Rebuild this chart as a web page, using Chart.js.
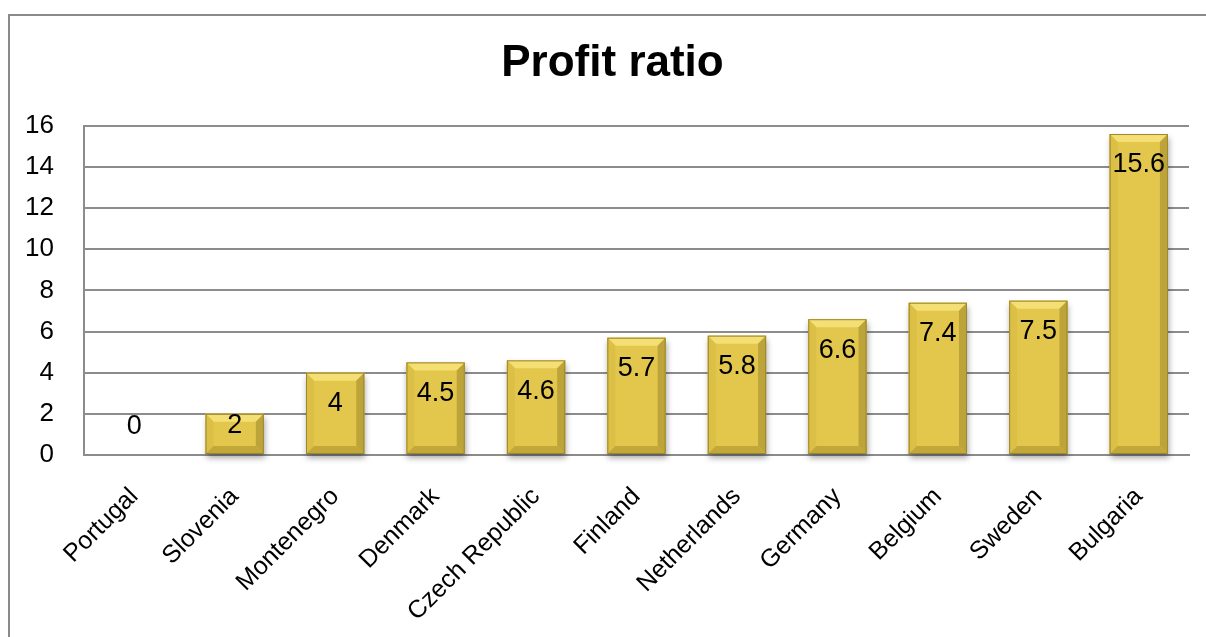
<!DOCTYPE html>
<html>
<head>
<meta charset="utf-8">
<title>Profit ratio</title>
<script src="https://cdn.jsdelivr.net/npm/chart.js@4.4.0/dist/chart.umd.min.js"></script>
<style>
  html, body { margin: 0; padding: 0; background: #fff; }
  #wrap { position: relative; width: 1206px; height: 637px; }
</style>
</head>
<body>
<div id="wrap"><canvas id="profitChart"></canvas></div>
<script>
const countries = ["Portugal", "Slovenia", "Montenegro", "Denmark", "Czech Republic",
  "Finland", "Netherlands", "Germany", "Belgium", "Sweden", "Bulgaria"];
const profitRatio = [0, 2, 4, 4.5, 4.6, 5.7, 5.8, 6.6, 7.4, 7.5, 15.6];
const yTicks = [0, 2, 4, 6, 8, 10, 12, 14, 16];

const FONT = '"Liberation Sans", Arial, sans-serif';
const GRID = "#8c8c8c";

// outer frame of the chart object; title box narrowed so it centres over the frame
const framePlugin = {
  id: "frame",
  afterLayout(chart) {
    if (chart.titleBlock) chart.titleBlock.left = 36;
  },
  beforeDraw(chart) {
    const ctx = chart.ctx;
    ctx.save();
    ctx.fillStyle = "#fff";
    ctx.fillRect(0, 0, chart.width, chart.height);
    ctx.strokeStyle = "#8a8a8a";
    ctx.lineWidth = 2;
    ctx.beginPath();
    ctx.moveTo(9, chart.height + 2);
    ctx.lineTo(9, 15);
    ctx.lineTo(chart.width + 2, 15);
    ctx.stroke();
    ctx.restore();
  }
};

// soft drop shadow under each bar, bevelled faces on top, value labels
const bevelPlugin = {
  id: "bevel",
  beforeDatasetsDraw(chart) {
    const ctx = chart.ctx;
    const meta = chart.getDatasetMeta(0);
    ctx.save();
    ctx.shadowColor = "rgba(0,0,0,0.35)";
    ctx.shadowBlur = 6;
    ctx.shadowOffsetY = 4;
    ctx.shadowOffsetX = 1;
    ctx.fillStyle = "#c9ad3c";
    meta.data.forEach((bar) => {
      const h = bar.base - bar.y;
      if (h <= 0) return;
      ctx.fillRect(bar.x - bar.width / 2, bar.y, bar.width, h);
    });
    ctx.restore();
  },
  afterDatasetsDraw(chart) {
    const ctx = chart.ctx;
    const meta = chart.getDatasetMeta(0);
    const ds = chart.data.datasets[0];
    meta.data.forEach((bar, i) => {
      const l = bar.x - bar.width / 2;
      const r = bar.x + bar.width / 2;
      const t = bar.y;
      const b = bar.base;
      const h = b - t;
      if (h > 0) {
        const bv = Math.min(8, h / 2);
        const face = (pts, color) => {
          ctx.beginPath();
          ctx.moveTo(pts[0][0], pts[0][1]);
          for (let k = 1; k < pts.length; k++) ctx.lineTo(pts[k][0], pts[k][1]);
          ctx.closePath();
          ctx.fillStyle = color;
          ctx.fill();
        };
        ctx.save();
        // top facet
        face([[l, t], [r, t], [r - bv, t + bv], [l + bv, t + bv]], "#f4df74");
        // left facet
        face([[l, t], [l + bv, t + bv], [l + bv, b - bv], [l, b]], "#dcc046");
        // right facet
        face([[r, t], [r, b], [r - bv, b - bv], [r - bv, t + bv]], "#bda43a");
        // bottom facet
        face([[l, b], [l + bv, b - bv], [r - bv, b - bv], [r, b]], "#c2a83b");
        ctx.strokeStyle = "#9c872c";
        ctx.lineWidth = 1;
        ctx.strokeRect(l + 0.5, t + 0.5, r - l - 1, h - 1);
        ctx.restore();
      }
      // value label near the top, kept inside short bars
      ctx.save();
      ctx.font = "27px " + FONT;
      ctx.fillStyle = "#000";
      ctx.textAlign = "center";
      ctx.textBaseline = "middle";
      const ly = Math.min(t + 31, b - 28);
      ctx.fillText(String(ds.data[i]), bar.x, ly);
      ctx.restore();
    });
  }
};

new Chart(document.getElementById("profitChart"), {
  type: "bar",
  data: {
    labels: countries,
    datasets: [{
      label: "Profit ratio",
      data: profitRatio,
      backgroundColor: "#e3c64c",
      borderWidth: 0,
      barPercentage: 0.58,
      categoryPercentage: 1.0
    }]
  },
  options: {
    responsive: true,
    maintainAspectRatio: false,
    animation: false,
    layout: { padding: { left: 0, right: 17, top: 0, bottom: 0 } },
    plugins: {
      legend: { display: false },
      tooltip: { enabled: false },
      title: {
        display: true,
        text: "Profit ratio",
        color: "#000",
        font: { family: FONT, size: 44, weight: "bold", lineHeight: 1.2 },
        padding: { top: 37, bottom: 36 }
      }
    },
    scales: {
      x: {
        grid: { display: false, drawTicks: false },
        border: { display: true, color: GRID, width: 2 },
        ticks: {
          color: "#000",
          font: { family: FONT, size: 25 },
          maxRotation: 45,
          minRotation: 45,
          autoSkip: false,
          padding: 27
        },
        afterFit(scale) { scale.height = 182; }
      },
      y: {
        min: yTicks[0],
        max: yTicks[yTicks.length - 1],
        afterBuildTicks(scale) { scale.ticks = yTicks.map((v) => ({ value: v })); },
        grid: { color: GRID, lineWidth: 2, drawTicks: false },
        border: { display: true, color: GRID, width: 2 },
        ticks: {
          color: "#000",
          font: { family: FONT, size: 26 },
          padding: 30
        },
        afterFit(scale) { scale.width = 84; }
      }
    }
  },
  plugins: [framePlugin, bevelPlugin]
});
</script>
</body>
</html>
